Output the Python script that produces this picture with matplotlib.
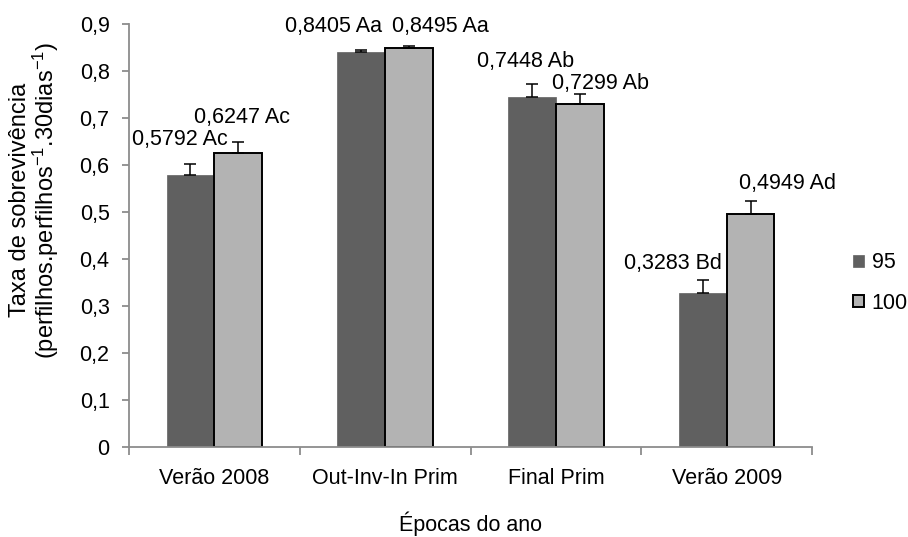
import matplotlib
matplotlib.use("Agg")
import matplotlib.pyplot as plt
import numpy as np

categories = ["Verão 2008", "Out-Inv-In Prim", "Final Prim", "Verão 2009"]
series_names = ["95", "100"]
values_95 = [0.5792, 0.8405, 0.7448, 0.3283]
values_100 = [0.6247, 0.8495, 0.7299, 0.4949]
err_95 = [0.023, 0.004, 0.027, 0.026]
err_100 = [0.024, 0.004, 0.021, 0.028]
labels_95 = ["0,5792 Ac", "0,8405 Aa", "0,7448 Ab", "0,3283 Bd"]
labels_100 = ["0,6247 Ac", "0,8495 Aa", "0,7299 Ab", "0,4949 Ad"]
yticks = [0, 0.1, 0.2, 0.3, 0.4, 0.5, 0.6, 0.7, 0.8, 0.9]
ytick_labels = ["0", "0,1", "0,2", "0,3", "0,4", "0,5", "0,6", "0,7", "0,8", "0,9"]

plt.rcParams['font.family'] = ['Liberation Sans', 'DejaVu Sans']
plt.rcParams['mathtext.default'] = 'regular'

W, H = 908, 537
fig = plt.figure(figsize=(W / 100, H / 100), dpi=100)
ax = fig.add_axes([129 / W, 1 - 447 / H, (812 - 129) / W, (447 - 24) / H])

dark = "#606060"
light = "#b3b3b3"
axis_col = "#8c8c8c"
bw = 0.28
x = np.arange(len(categories))

b1 = ax.bar(x - bw / 2, values_95, bw, color=dark, edgecolor=dark, linewidth=0.5,
            label=series_names[0], zorder=2)
b2 = ax.bar(x + bw / 2, values_100, bw, color=light, edgecolor="black", linewidth=1.4,
            label=series_names[1], zorder=2)
ax.errorbar(x - bw / 2, values_95, yerr=[np.zeros(4), err_95], fmt="none",
            ecolor="black", elinewidth=1.1, capsize=4.5, capthick=1.1, zorder=3)
ax.errorbar(x + bw / 2, values_100, yerr=[np.zeros(4), err_100], fmt="none",
            ecolor="black", elinewidth=1.1, capsize=4.5, capthick=1.1, zorder=3)

# label offsets in pixels (dx, dy above cap)
off_95 = [(-11, 24), (-28, 24), (-6, 23), (-30, 17)]
off_100 = [(4, 25), (31, 19), (21, 11), (37, 18)]
fs = 15.5
for i in range(4):
    for xv, v, e, lab, off in [(x[i] - bw / 2, values_95[i], err_95[i], labels_95[i], off_95[i]),
                               (x[i] + bw / 2, values_100[i], err_100[i], labels_100[i], off_100[i])]:
        ax.annotate(lab, xy=(xv, v + e), xytext=(off[0] * 0.72, off[1] * 0.72),
                    textcoords="offset points", ha="center", va="center",
                    fontsize=fs, color="black")

ax.set_xlim(-0.5, 3.5)
ax.set_ylim(0, 0.9)
ax.set_yticks(yticks)
ax.set_yticklabels(ytick_labels, fontsize=fs)
ax.set_xticks(x)
ax.set_xticklabels(categories, fontsize=fs)
ax.set_xticks(np.arange(-0.5, 4.0, 1.0), minor=True)
ax.tick_params(axis="x", which="major", length=0, pad=15)
ax.tick_params(axis="x", which="minor", length=6, color=axis_col, width=1.3)
ax.tick_params(axis="y", length=5, color=axis_col, width=1.3, pad=9)

for s in ["top", "right"]:
    ax.spines[s].set_visible(False)
for s in ["left", "bottom"]:
    ax.spines[s].set_color(axis_col)
    ax.spines[s].set_linewidth(1.3)

ax.set_xlabel("Épocas do ano", fontsize=fs, labelpad=16)
fig.text(35 / W, 1 - 200 / H,
         "Taxa de sobrevivência\n(perfilhos.perfilhos$^{-1}$.30dias$^{-1}$)",
         rotation=90, ha="center", va="center", multialignment="center",
         fontsize=17, linespacing=1.0)

leg = fig.legend(handles=[b1, b2], labels=series_names, loc="center left",
                 bbox_to_anchor=(849 / W, 1 - 283 / H), frameon=False, fontsize=fs,
                 handlelength=0.5, handleheight=0.5, handletextpad=0.35, labelspacing=0.9,
                 borderpad=0.2, borderaxespad=0)

fig.savefig("out.png", dpi=100)
